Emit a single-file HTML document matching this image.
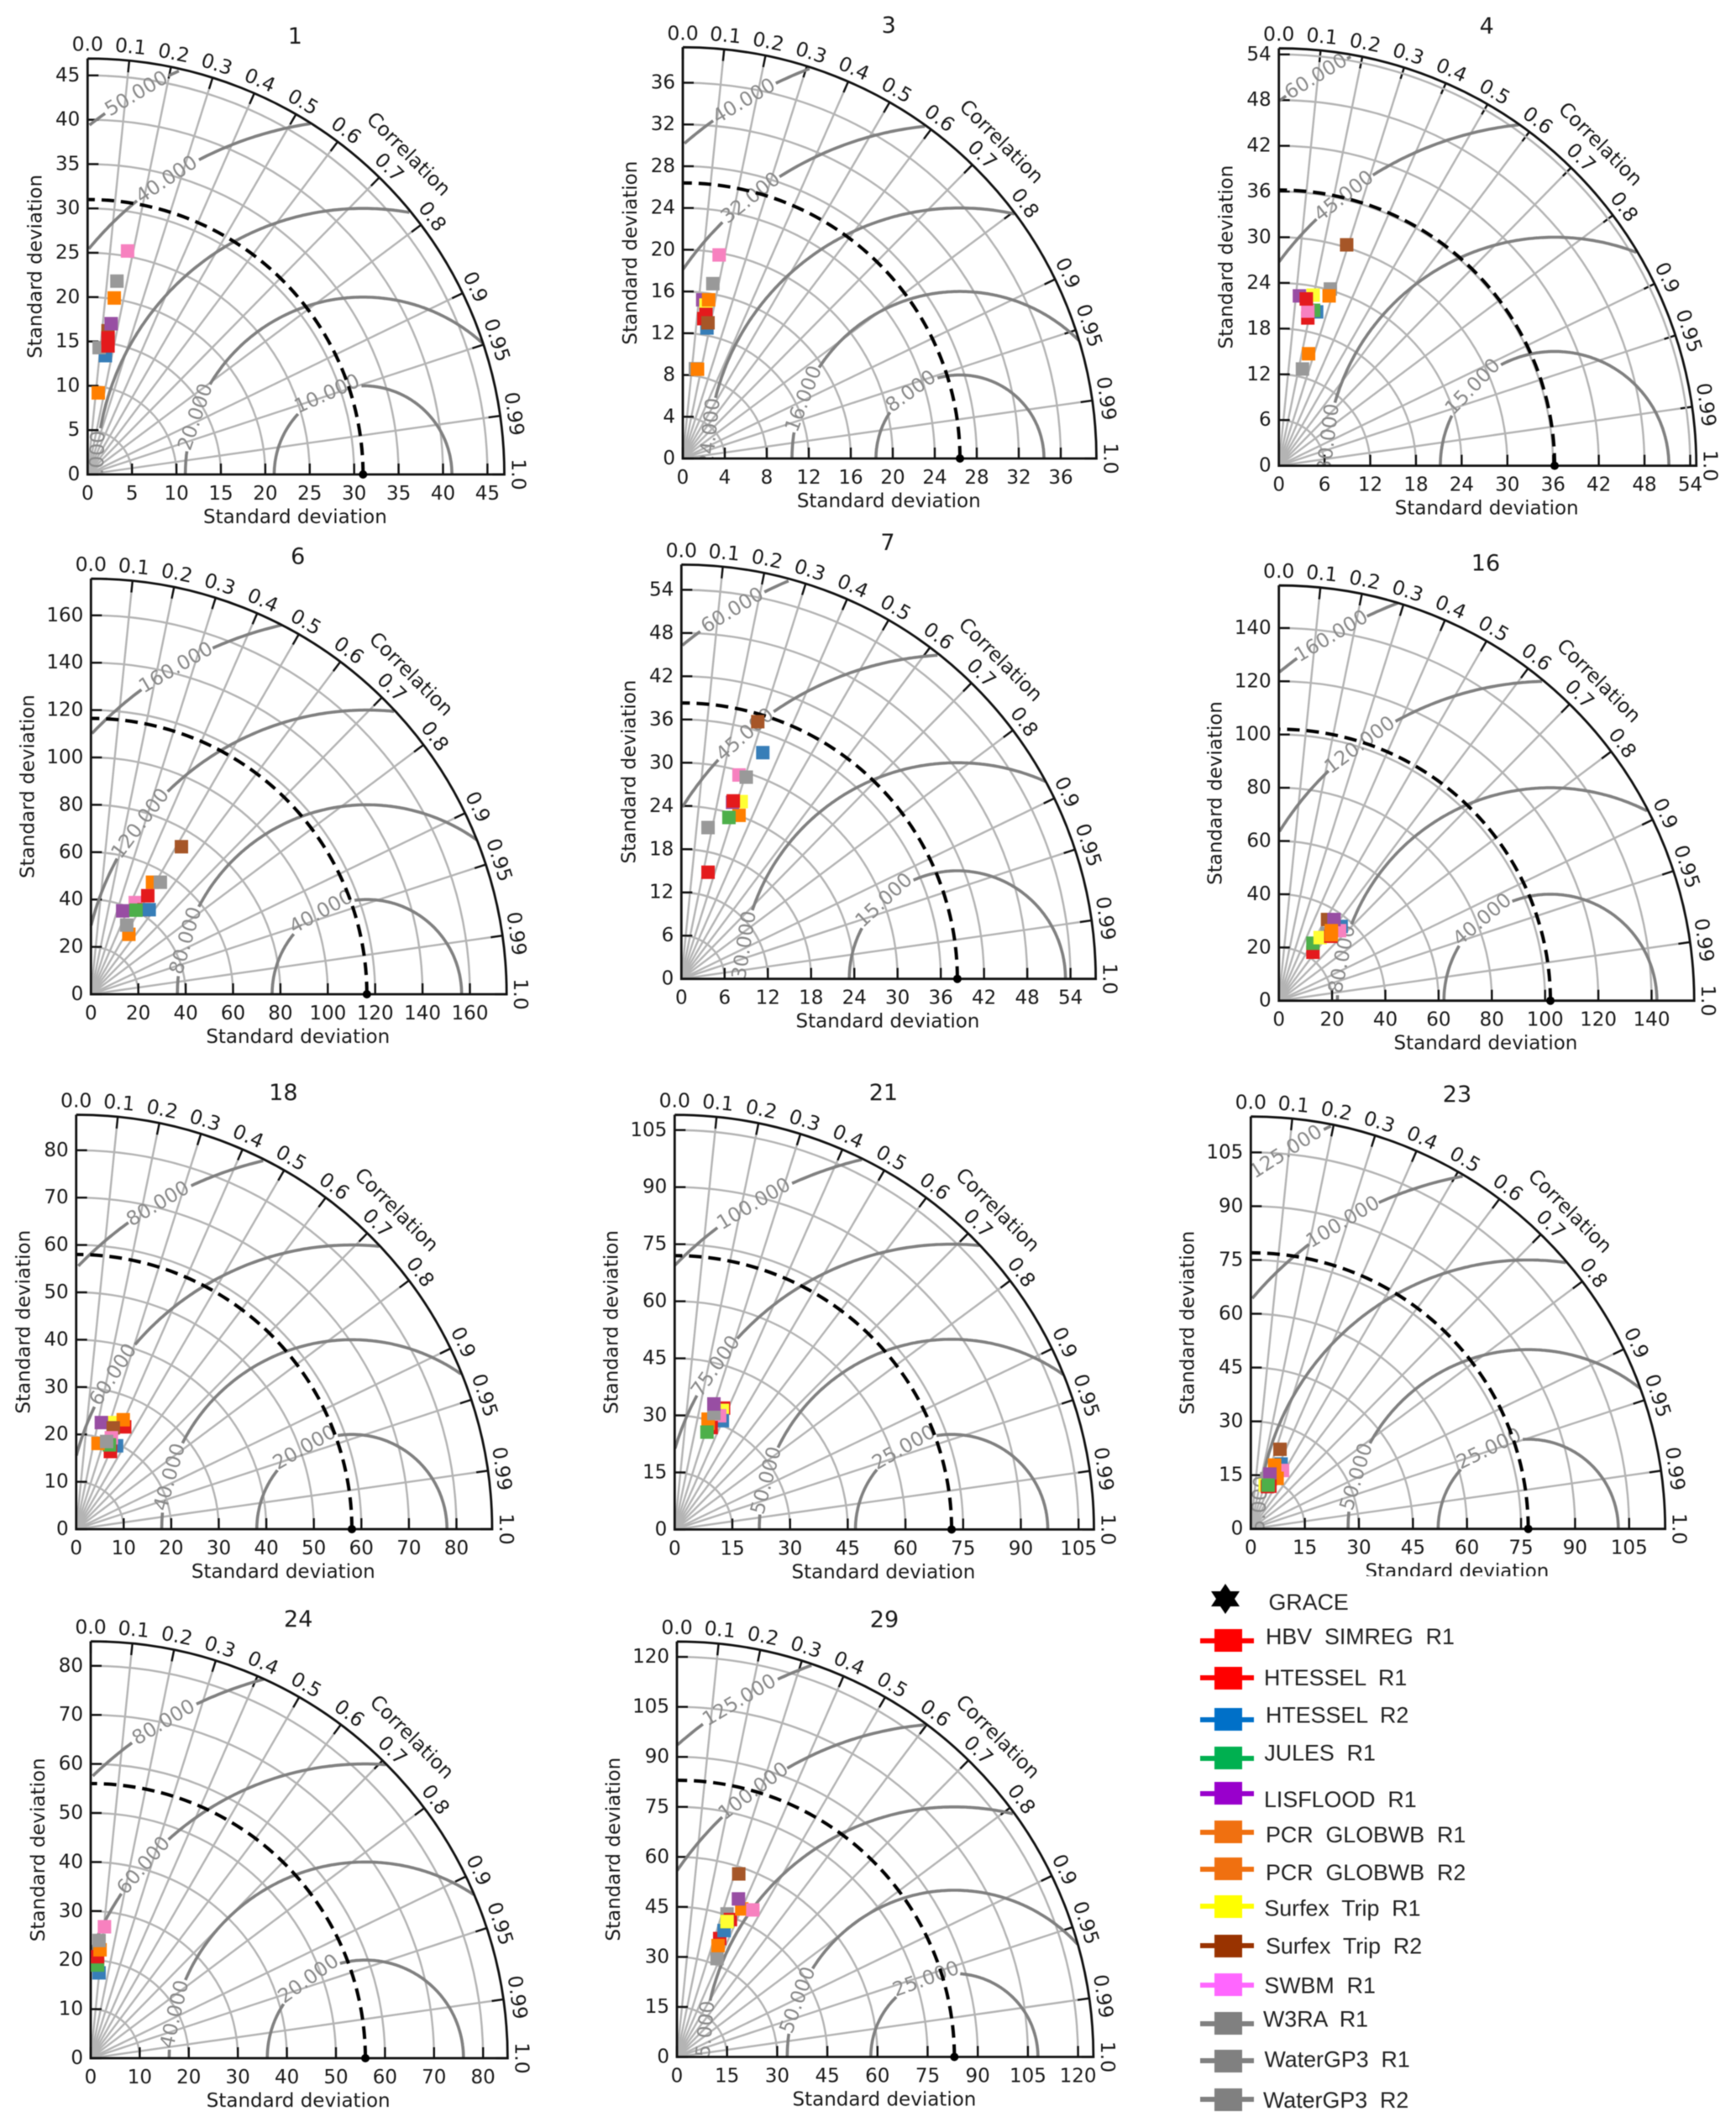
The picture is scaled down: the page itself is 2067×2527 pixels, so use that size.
<!DOCTYPE html>
<html>
<head>
<meta charset="utf-8">
<title>Taylor diagrams</title>
<style>
html,body{margin:0;padding:0;background:#fff;}
svg{display:block;filter:blur(0.6px);}
text{font-family:"DejaVu Sans","Liberation Sans",sans-serif;fill:#1a1a1a;}
.lg{font-family:"Liberation Sans",sans-serif;font-size:26.8px;white-space:pre;fill:#222;}
</style>
</head>
<body>
<svg id="chart" xmlns="http://www.w3.org/2000/svg" width="2067" height="2527" viewBox="0 0 2067 2527">
<rect width="2067" height="2527" fill="#fff"/>
<g id="panels"></g>
<g>
<rect x="1380" y="1877" width="687" height="650" fill="#fff"/>
<polygon points="1459,1886 1465,1895 1476,1895 1470,1904 1476,1913 1465,1913 1459,1922 1453,1913 1442,1913 1448,1904 1442,1895 1453,1895" fill="#000"/>
<text class="lg" x="1510.5" y="1917">GRACE</text>
<g><rect x="1429" y="1951" width="64" height="6" fill="#ff0000"/><rect x="1446" y="1940" width="33" height="27" fill="#ff0000"/><text class="lg" x="1507" y="1958">HBV  SIMREG  R1</text></g>
<g><rect x="1429" y="1995" width="64" height="6" fill="#ff0000"/><rect x="1446" y="1985" width="33" height="27" fill="#ff0000"/><text class="lg" x="1505" y="2007">HTESSEL  R1</text></g>
<g><rect x="1429" y="2045" width="64" height="6" fill="#0070c8"/><rect x="1446" y="2034" width="33" height="27" fill="#0070c8"/><text class="lg" x="1507" y="2051.5">HTESSEL  R2</text></g>
<g><rect x="1429" y="2091" width="64" height="6" fill="#00b050"/><rect x="1446" y="2080" width="33" height="27" fill="#00b050"/><text class="lg" x="1505.4" y="2096.3">JULES  R1</text></g>
<g><rect x="1429" y="2133" width="64" height="6" fill="#9900cc"/><rect x="1446" y="2122" width="33" height="27" fill="#9900cc"/><text class="lg" x="1505" y="2152">LISFLOOD  R1</text></g>
<g><rect x="1429" y="2179" width="64" height="6" fill="#f07010"/><rect x="1446" y="2168" width="33" height="27" fill="#f07010"/><text class="lg" x="1507" y="2194.2">PCR  GLOBWB  R1</text></g>
<g><rect x="1429" y="2223" width="64" height="6" fill="#f07010"/><rect x="1446" y="2212" width="33" height="27" fill="#f07010"/><text class="lg" x="1507" y="2239">PCR  GLOBWB  R2</text></g>
<g><rect x="1429" y="2267" width="64" height="6" fill="#ffff00"/><rect x="1446" y="2257" width="33" height="27" fill="#ffff00"/><text class="lg" x="1505.4" y="2281.5">Surfex  Trip  R1</text></g>
<g><rect x="1429" y="2314" width="64" height="6" fill="#993300"/><rect x="1446" y="2304" width="33" height="27" fill="#993300"/><text class="lg" x="1507" y="2326.5">Surfex  Trip  R2</text></g>
<g><rect x="1429" y="2361" width="64" height="6" fill="#ff66ff"/><rect x="1446" y="2350" width="33" height="27" fill="#ff66ff"/><text class="lg" x="1505.4" y="2373.5">SWBM  R1</text></g>
<g><rect x="1429" y="2407" width="64" height="6" fill="#808080"/><rect x="1446" y="2396" width="33" height="27" fill="#808080"/><text class="lg" x="1504" y="2413.3">W3RA  R1</text></g>
<g><rect x="1429" y="2451" width="64" height="6" fill="#808080"/><rect x="1446" y="2441" width="33" height="27" fill="#808080"/><text class="lg" x="1505.5" y="2461.5">WaterGP3  R1</text></g>
<g><rect x="1429" y="2497" width="64" height="6" fill="#808080"/><rect x="1446" y="2487" width="33" height="27" fill="#808080"/><text class="lg" x="1504" y="2510">WaterGP3  R2</text></g>
</g>
</svg>
<script>
// Model colour scheme for the markers (index = model)
const modelNames = ['HBV SIMREG R1','HTESSEL R1','HTESSEL R2','JULES R1','LISFLOOD R1','PCR GLOBWB R1','PCR GLOBWB R2','Surfex Trip R1','Surfex Trip R2','SWBM R1','W3RA R1','WaterGP3 R1','WaterGP3 R2'];
const modelColors = ['#e41a1c','#e41a1c','#377eb8','#4daf4a','#984ea3','#ff7f00','#ff7f00','#ffff33','#a65628','#f781bf','#999999','#999999','#999999'];
const correlationTicks = [0,0.1,0.2,0.3,0.4,0.5,0.6,0.7,0.8,0.9,0.95,0.99,1];
const correlationLabels = ['0.0','0.1','0.2','0.3','0.4','0.5','0.6','0.7','0.8','0.9','0.95','0.99','1.0'];

// Panel 1
const p1Ticks = [0,5,10,15,20,25,30,35,40,45];
const p1Obs = 31;
const p1Levels = [10,20,30,40,50];
const p1LabelAngles = [114,161,178,123.6,120.7];
const p1Models = [2,10,8,0,1,4,5,6,11,9];
const p1X = [2,1.3,2.3,2.3,2.3,2.65,3,1.2,3.3,4.5];
const p1Y = [13.4,14.3,16.2,14.5,15.4,17,19.9,9.2,21.8,25.2];
// Panel 3
const p3Ticks = [0,4,8,12,16,20,24,28,32,36];
const p3Obs = 26.4;
const p3Levels = [8,16,24,32,40];
const p3LabelAngles = [126,159,174,128.6,121];
const p3Models = [4,7,2,1,0,8,10,6,11,5,9];
const p3X = [1.9,2.2,2.3,2,2.2,2.4,1.2,1.4,2.86,2.46,3.46];
const p3Y = [15.2,14.7,12.5,13.4,13.8,13,8.6,8.55,16.75,15.2,19.5];
// Panel 4
const p4Ticks = [0,6,12,18,24,30,36,42,48,54];
const p4Obs = 36.2;
const p4Levels = [15,30,45,60];
const p4LabelAngles = [136,173,128,121.5];
const p4Models = [4,7,10,5,8,2,3,0,9,1,6,11];
const p4X = [2.7,4.5,6.76,6.6,8.9,4.96,4.56,3.8,3.8,3.6,3.9,3.1];
const p4Y = [22.3,22.4,23.2,22.3,29,20.2,20.4,19.4,20.3,21.9,14.7,12.7];
// Panel 6
const p6Ticks = [0,20,40,60,80,100,120,140,160];
const p6Obs = 116.5;
const p6Levels = [40,80,120,160];
const p6LabelAngles = [119,163.5,143,120.3];
const p6Models = [5,6,10,11,9,0,1,2,4,3,8];
const p6X = [16,26,15.1,29.3,18.7,24,22.4,24.6,13.4,19,38.2];
const p6Y = [25.3,47.3,29.2,47.3,38.7,41.6,35.7,35.7,35.2,35.5,62.3];
// Panel 7
const p7Ticks = [0,6,12,18,24,30,36,42,48,54];
const p7Obs = 38.3;
const p7Levels = [15,30,45,60];
const p7LabelAngles = [133,171,131,121.4];
const p7Models = [5,7,4,0,3,10,1,9,11,2,8];
const p7X = [8,8.3,7.1,7.2,6.6,3.7,3.7,8,9,11.3,10.6];
const p7Y = [22.7,24.6,24.5,24.7,22.4,21,14.8,28.3,28,31.4,35.7];
// Panel 16
const p16Ticks = [0,20,40,60,80,100,120,140];
const p16Obs = 102;
const p16Levels = [40,80,120,160];
const p16LabelAngles = [130,168.7,126.7,121];
const p16Models = [0,3,10,7,1,2,9,8,4,5,6];
const p16X = [12.8,12.8,18.1,15.5,19.5,23.4,22.8,18.3,20.7,19.7,19.7];
const p16Y = [18.2,21.6,25.3,23.7,24.2,27.9,26.3,30.5,30.5,26.3,24.8];
// Panel 18
const p18Ticks = [0,10,20,30,40,50,60,70,80];
const p18Obs = 58;
const p18Levels = [20,40,60,80];
const p18LabelAngles = [120,164,147,120.7];
const p18Models = [7,1,5,4,8,2,9,0,3,6,10];
const p18X = [7.6,10.2,9.9,5.3,7.8,8.5,7.4,7.2,7,4.6,6.4];
const p18Y = [22.5,21.6,23.1,22.5,21.4,17.6,19.3,16.4,17.8,18.1,18.5];
// Panel 21
const p21Ticks = [0,15,30,45,60,75,90,105];
const p21Obs = 72;
const p21Levels = [25,50,75,100];
const p21LabelAngles = [120,165,145,121];
const p21Models = [0,7,2,9,1,5,6,3,10,4];
const p21X = [12.7,12.4,12.4,11.7,9.5,8.7,8.7,8.4,10.2,10.2];
const p21Y = [31.9,31.3,28.6,29.9,26.8,29,27.9,25.6,30.5,33];
// Panel 23
const p23Ticks = [0,15,30,45,60,75,90,105];
const p23Obs = 77;
const p23Levels = [25,50,75,100,125];
const p23LabelAngles = [116,163,176,121,122.6];
const p23Models = [8,2,9,6,5,10,4,7,0,1,3];
const p23X = [8.1,8.4,8.8,7.3,6.6,4.4,5.3,4,5.3,4.6,4.8];
const p23Y = [22.2,18.1,16.3,14.1,17.8,14,15.3,12.2,11.9,11.8,12.2];
// Panel 24
const p24Ticks = [0,10,20,30,40,50,60,70,80];
const p24Obs = 56;
const p24Levels = [20,40,60,80];
const p24LabelAngles = [125.6,167,139,121];
const p24Models = [2,3,0,5,10,9];
const p24X = [1.7,1.4,1.4,1.9,1.7,2.8];
const p24Y = [17.4,19,20.7,22.1,24,26.8];
// Panel 29
const p29Ticks = [0,15,30,45,60,75,90,105,120];
const p29Obs = 83;
const p29Levels = [25,50,75,100,125];
const p29LabelAngles = [110,160,175,127,121];
const p29Models = [10,11,0,6,2,1,3,7,5,4,8,9];
const p29X = [12,15,12.8,12.3,14.1,16,15,15,19.4,18.4,18.5,22.7];
const p29Y = [29.5,42.9,35.5,33.4,37.9,41.2,40.6,40.6,44.4,47.4,54.9,44.1];

// Layout only (pixel frame of each panel)
const layout = [
 {t:'1', ox:104.3, oy:565,    u:10.58, uy:10.56, rmax:46.9,  ticks:p1Ticks,  obs:p1Obs,  levels:p1Levels,  angles:p1LabelAngles,  models:p1Models,  xs:p1X,  ys:p1Y},
 {t:'3', ox:813,   oy:546,    u:12.5,  uy:12.43, rmax:39.4,  ticks:p3Ticks,  obs:p3Obs,  levels:p3Levels,  angles:p3LabelAngles,  models:p3Models,  xs:p3X,  ys:p3Y},
 {t:'4', ox:1522.7,oy:554.6,  u:9.07,  uy:9.07,  rmax:54.8,  ticks:p4Ticks,  obs:p4Obs,  levels:p4Levels,  angles:p4LabelAngles,  models:p4Models,  xs:p4X,  ys:p4Y},
 {t:'6', ox:108.3, oy:1184,   u:2.82,  uy:2.82,  rmax:175.5, ticks:p6Ticks,  obs:p6Obs,  levels:p6Levels,  angles:p6LabelAngles,  models:p6Models,  xs:p6X,  ys:p6Y},
 {t:'7', ox:811.3, oy:1165.7, u:8.58,  uy:8.58,  rmax:57.5,  ticks:p7Ticks,  obs:p7Obs,  levels:p7Levels,  angles:p7LabelAngles,  models:p7Models,  xs:p7X,  ys:p7Y},
 {t:'16',ox:1522.7,oy:1191.7, u:3.17,  uy:3.17,  rmax:156,   ticks:p16Ticks, obs:p16Obs, levels:p16Levels, angles:p16LabelAngles, models:p16Models, xs:p16X, ys:p16Y},
 {t:'18',ox:90.7,  oy:1821,   u:5.66,  uy:5.64,  rmax:87.5,  ticks:p18Ticks, obs:p18Obs, levels:p18Levels, angles:p18LabelAngles, models:p18Models, xs:p18X, ys:p18Y},
 {t:'21',ox:803.3, oy:1821.4, u:4.58,  uy:4.53,  rmax:109,   ticks:p21Ticks, obs:p21Obs, levels:p21Levels, angles:p21LabelAngles, models:p21Models, xs:p21X, ys:p21Y},
 {t:'23',ox:1489.3,oy:1820.7, u:4.29,  uy:4.27,  rmax:115,   ticks:p23Ticks, obs:p23Obs, levels:p23Levels, angles:p23LabelAngles, models:p23Models, xs:p23X, ys:p23Y},
 {t:'24',ox:108,   oy:2451,   u:5.84,  uy:5.84,  rmax:85,    ticks:p24Ticks, obs:p24Obs, levels:p24Levels, angles:p24LabelAngles, models:p24Models, xs:p24X, ys:p24Y},
 {t:'29',ox:806,   oy:2449.5, u:3.98,  uy:3.97,  rmax:124.6, ticks:p29Ticks, obs:p29Obs, levels:p29Levels, angles:p29LabelAngles, models:p29Models, xs:p29X, ys:p29Y}
];

const NS = 'http://www.w3.org/2000/svg';
function mk(tag, attrs, parent, txt){
  const e = document.createElementNS(NS, tag);
  for (const k in attrs) e.setAttribute(k, attrs[k]);
  if (txt !== undefined) e.textContent = txt;
  parent.appendChild(e);
  return e;
}
const root = document.getElementById('panels');

layout.forEach(function(p, pi){
  const sx = function(v){ return p.ox + v * p.u; };
  const sy = function(v){ return p.oy - v * p.uy; };
  const R = p.rmax * p.u;
  const Ry = p.rmax * p.uy;
  const g = mk('g', {}, root);
  
  

  const clipId = 'clip' + pi;
  const defs = mk('defs', {}, g);
  const cp = mk('clipPath', {id: clipId}, defs);
  mk('rect', {x: p.ox, y: p.oy - Ry, width: R, height: Ry}, cp);

  // radial correlation grid and ring ticks
  correlationTicks.forEach(function(c, i){
    const th = Math.acos(c);
    const cs = Math.cos(th), sn = Math.sin(th);
    if (i > 0 && i < correlationTicks.length - 1) {
      const ray = mk('line', {x1: sx(0), y1: sy(0), x2: sx(p.rmax * cs), y2: sy(p.rmax * sn), stroke: '#b4b4b4', 'stroke-width': 2.4}, g);
      
      
    }
    const tk = mk('line', {x1: p.ox + (R - 14) * cs, y1: p.oy - (Ry - 14) * sn, x2: p.ox + R * cs, y2: p.oy - Ry * sn, stroke: '#111', 'stroke-width': 2.4}, g);
    
    
    const lx = p.ox + (R + 17) * cs, ly = p.oy - (Ry + 17) * sn;
    const rot = 90 - th * 180 / Math.PI;
    const lb = mk('text', {x: lx, y: ly, 'text-anchor': 'middle', 'dominant-baseline': 'central', 'font-size': 23.5, transform: 'rotate(' + rot + ' ' + lx + ' ' + ly + ')'}, g, correlationLabels[i]);
    
    
  });

  // std-dev arcs and axis ticks
  p.ticks.forEach(function(v){
    if (v > 0) {
      const arc = mk('path', {d: 'M' + sx(v) + ' ' + sy(0) + ' A' + v * p.u + ' ' + v * p.uy + ' 0 0 0 ' + sx(0) + ' ' + sy(v), fill: 'none', stroke: '#b4b4b4', 'stroke-width': 2.4}, g);
      
      
    }
    const xt = mk('line', {x1: sx(v), y1: p.oy, x2: sx(v), y2: p.oy - 13, stroke: '#111', 'stroke-width': 2.4}, g);
    
    
    const yt = mk('line', {x1: p.ox, y1: sy(v), x2: p.ox + 13, y2: sy(v), stroke: '#111', 'stroke-width': 2.4}, g);
    
    
    const xl = mk('text', {x: sx(v), y: p.oy + 23, 'text-anchor': 'middle', 'dominant-baseline': 'central', 'font-size': 23}, g, String(v));
    
    
    const yl = mk('text', {x: p.ox - 9, y: sy(v), 'text-anchor': 'end', 'dominant-baseline': 'central', 'font-size': 23}, g, String(v));
    
    
  });

  // RMS contours
  p.levels.forEach(function(c, i){
    const txt = c.toFixed(3);
    const halfGap = txt.length * 6.6 + 2;
    let d = '', pen = false;
    for (let a = 0; a <= 180; a += 0.5) {
      const rad = a * Math.PI / 180;
      const x = p.obs + c * Math.cos(rad), y = c * Math.sin(rad);
      const inside = x >= 0 && Math.hypot(x, y) <= p.rmax;
      const gap = Math.abs(a - p.angles[i]) * Math.PI / 180 * c * p.u < halfGap;
      if (inside && !gap) {
        d += (pen ? 'L' : 'M') + sx(x).toFixed(1) + ' ' + sy(y).toFixed(1);
        pen = true;
      } else {
        pen = false;
      }
    }
    const ct = mk('path', {d: d, fill: 'none', stroke: '#808080', 'stroke-width': 3.6}, g);
    
    
    const rad = p.angles[i] * Math.PI / 180;
    const lx = sx(p.obs + c * Math.cos(rad)), ly = sy(c * Math.sin(rad));
    const wrap = mk('g', {'clip-path': 'url(#' + clipId + ')'}, g);
    const cl = mk('text', {x: lx, y: ly, 'text-anchor': 'middle', 'dominant-baseline': 'central', 'font-size': 23.5, style: 'fill:#8a8a8a', transform: 'rotate(' + (90 - p.angles[i]) + ' ' + lx + ' ' + ly + ')'}, wrap, txt);
    
    
  });

  // Observed std-dev dashed arc
  const ob = mk('path', {d: 'M' + sx(p.obs) + ' ' + sy(0) + ' A' + p.obs * p.u + ' ' + p.obs * p.uy + ' 0 0 0 ' + sx(0) + ' ' + sy(p.obs), fill: 'none', stroke: '#000', 'stroke-width': 4, 'stroke-dasharray': '15 8'}, g);
  
  

  // Frame
  const fr = mk('path', {d: 'M' + p.ox + ' ' + (p.oy - Ry) + ' L' + p.ox + ' ' + p.oy + ' L' + (p.ox + R) + ' ' + p.oy + ' A' + R + ' ' + Ry + ' 0 0 0 ' + p.ox + ' ' + (p.oy - Ry), fill: 'none', stroke: '#111', 'stroke-width': 2.8}, g);
  
  

  // Observation marker
  const star = mk('circle', {cx: sx(p.obs), cy: sy(0), r: 5, fill: '#000'}, g);
  
  

  // Model markers
  p.models.forEach(function(m, i){
    const sq = mk('rect', {x: sx(p.xs[i]) - 8, y: sy(p.ys[i]) - 8, width: 16, height: 16, fill: modelColors[m]}, g);
    
    
  });

  // Titles
  const title = mk('text', {x: p.ox + R / 2 - 1, y: p.oy - Ry - 26, 'text-anchor': 'middle', 'dominant-baseline': 'central', 'font-size': 27}, g, p.t);
  
  
  const xTitle = mk('text', {x: p.ox + R / 2 - 1, y: p.oy + 51, 'text-anchor': 'middle', 'dominant-baseline': 'central', 'font-size': 23}, g, 'Standard deviation');
  
  
  const wide = String(p.ticks[p.ticks.length - 1]).length > 2;
  const yx = p.ox - (wide ? 75 : 62), yy = p.oy - Ry / 2;
  const yTitle = mk('text', {x: yx, y: yy, 'text-anchor': 'middle', 'dominant-baseline': 'central', 'font-size': 23, transform: 'rotate(-90 ' + yx + ' ' + yy + ')'}, g, 'Standard deviation');
  
  
  const cr = 1.09 * Math.SQRT1_2;
  const cx = p.ox + R * cr, cy = p.oy - Ry * cr;
  const corrTitle = mk('text', {x: cx, y: cy, 'text-anchor': 'middle', 'dominant-baseline': 'central', 'font-size': 23.5, transform: 'rotate(45 ' + cx + ' ' + cy + ')'}, g, 'Correlation');
  
  
});
</script>
</body>
</html>
